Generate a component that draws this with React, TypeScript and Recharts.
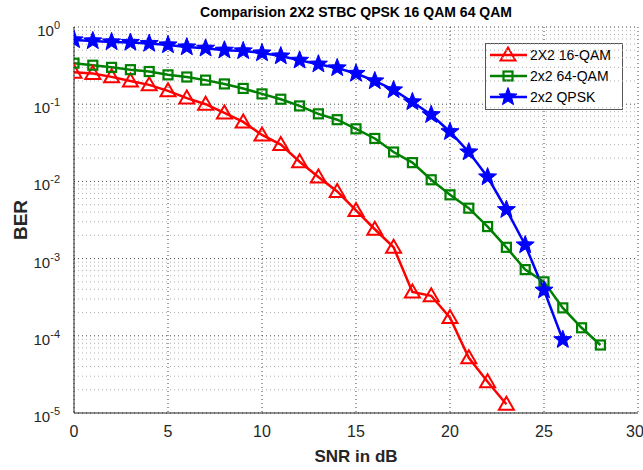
import React from 'react';
import { LineChart, Line, XAxis, YAxis, CartesianGrid, ReferenceLine } from 'recharts';

const snr = [0, 1, 2, 3, 4, 5, 6, 7, 8, 9, 10, 11, 12, 13, 14, 15, 16, 17, 18, 19, 20, 21, 22, 23, 24, 25, 26, 27, 28];

const qam16 = [0.26, 0.25, 0.226, 0.2, 0.178, 0.149, 0.12, 0.1, 0.077, 0.059, 0.04, 0.03, 0.018, 0.0114, 0.0074, 0.0042, 0.0024, 0.0014, 0.00037, 0.00033, 0.000172, 0.000052, 0.0000254, 0.000013];
const qam64 = [0.34, 0.32, 0.3, 0.28, 0.265, 0.24, 0.225, 0.205, 0.183, 0.16, 0.136, 0.116, 0.095, 0.075, 0.063, 0.048, 0.036, 0.024, 0.0175, 0.0105, 0.0067, 0.0045, 0.0026, 0.0014, 0.00072, 0.0005, 0.00023, 0.000127, 0.000076];
const qpsk = [0.68, 0.66, 0.64, 0.63, 0.61, 0.585, 0.55, 0.53, 0.5, 0.49, 0.46, 0.42, 0.37, 0.33, 0.295, 0.25, 0.2, 0.153, 0.107, 0.073, 0.044, 0.024, 0.0114, 0.0043, 0.0015, 0.00039, 0.000089];

const xTicks = [0, 5, 10, 15, 20, 25, 30];
const yTicks = [1e-5, 1e-4, 1e-3, 1e-2, 1e-1, 1];
const yExp = [-5, -4, -3, -2, -1, 0];
const minorSteps = [2, 3, 4, 5, 6, 7, 8, 9];

const data = snr.map((s, i) => ({ snr: s, qam16: qam16[i], qam64: qam64[i], qpsk: qpsk[i] }));
const minorValues = yTicks.slice(0, 5).flatMap((d) => minorSteps.map((m) => d * m));

const FONT = 'Arial, "Liberation Sans", sans-serif';
const RED = '#ff0000';
const GREEN = '#008000';
const BLUE = '#0000ff';

const Triangle = ({ x, y }: { x: number; y: number }) => (
  <polygon points={`${x},${y - 7.5} ${x - 7.5},${y + 5.5} ${x + 7.5},${y + 5.5}`} fill="none" stroke={RED} strokeWidth={2} />
);
const Square = ({ x, y }: { x: number; y: number }) => (
  <rect x={x - 4.5} y={y - 4.5} width={9} height={9} fill="none" stroke={GREEN} strokeWidth={2.2} />
);
const Star = ({ x, y }: { x: number; y: number }) => {
  const pts: string[] = [];
  for (let k = 0; k < 10; k++) {
    const r = k % 2 === 0 ? 9.5 : 4;
    const a = -Math.PI / 2 + (k * Math.PI) / 5;
    pts.push(`${x + r * Math.cos(a)},${y + r * Math.sin(a)}`);
  }
  return <polygon points={pts.join(' ')} fill={BLUE} stroke={BLUE} strokeWidth={1} />;
};

const makeDot = (Shape: React.FC<{ x: number; y: number }>) => (props: any) => {
  const { cx, cy, index } = props;
  if (cx == null || cy == null || props.value == null) return <g key={`d-${index}`} />;
  return (
    <g key={`d-${index}`}>
      <Shape x={cx} y={cy} />
    </g>
  );
};

const YTick = (props: any) => {
  const { x, y, payload } = props;
  const e = yExp[yTicks.indexOf(payload.value)];
  return (
    <text x={x - 6} y={y + 9} textAnchor="end" fontFamily={FONT} fontSize={15} fill="#262626">
      10
      <tspan dy={-7} fontSize={11}>{e}</tspan>
    </text>
  );
};

const legendItems = [
  { label: '2X2 16-QAM', color: RED, Shape: Triangle },
  { label: '2x2 64-QAM', color: GREEN, Shape: Square },
  { label: '2x2 QPSK', color: BLUE, Shape: Star },
];

export default function App() {
  return (
    <div style={{ position: 'fixed', left: 0, top: 0, width: 643, height: 470, background: '#fff' }}>
      <LineChart width={643} height={470} data={data} margin={{ top: 27, right: 5, bottom: 0, left: 0 }}>
        <text x={356} y={17} textAnchor="middle" fontFamily={FONT} fontSize={14} fontWeight="bold" fill="#000">
          Comparision 2X2 STBC QPSK 16 QAM 64 QAM
        </text>
        <text x={0} y={0} transform="translate(27,220) rotate(-90)" textAnchor="middle" fontFamily={FONT} fontSize={19} fontWeight="bold" fill="#262626">
          BER
        </text>
        <text x={356} y={462} textAnchor="middle" fontFamily={FONT} fontSize={17} fontWeight="bold" fill="#262626">
          SNR in dB
        </text>
        {minorValues.map((v) => (
          <ReferenceLine key={`m-${v}`} y={v} stroke="#b0b0b0" strokeWidth={1} strokeDasharray="1 3" />
        ))}
        <CartesianGrid stroke="#444" strokeDasharray="1 3" />
        <XAxis
          dataKey="snr"
          type="number"
          domain={[0, 30]}
          ticks={xTicks}
          allowDataOverflow
          height={57}
          tickLine={false}
          axisLine={{ stroke: '#262626' }}
          tick={{ fontFamily: FONT, fontSize: 16, fill: '#262626' }}
          tickMargin={7}
        />
        <XAxis xAxisId="top" orientation="top" type="number" domain={[0, 30]} ticks={xTicks} height={0} tick={false} tickLine={false} axisLine={{ stroke: '#262626' }} />
        <YAxis
          scale="log"
          domain={[1e-5, 1]}
          ticks={yTicks}
          allowDataOverflow
          width={74}
          tickLine={false}
          axisLine={{ stroke: '#262626' }}
          tick={<YTick />}
        />
        <YAxis yAxisId="right" orientation="right" scale="log" domain={[1e-5, 1]} ticks={yTicks} width={0} tick={false} tickLine={false} axisLine={{ stroke: '#262626' }} />
        <Line dataKey="qam16" stroke={RED} strokeWidth={2.5} dot={makeDot(Triangle)} isAnimationActive={false} />
        <Line dataKey="qam64" stroke={GREEN} strokeWidth={2.5} dot={makeDot(Square)} isAnimationActive={false} />
        <Line dataKey="qpsk" stroke={BLUE} strokeWidth={2.5} dot={makeDot(Star)} isAnimationActive={false} />
        <g transform="translate(485,43)">
          <rect x={0.5} y={0.5} width={137} height={66} fill="#fff" stroke="#555" />
          {legendItems.map((it, i) => {
            const y = 12 + i * 21;
            return (
              <g key={it.label}>
                <line x1={5} x2={42} y1={y} y2={y} stroke={it.color} strokeWidth={2.5} />
                <it.Shape x={23} y={y} />
                <text x={45} y={y + 5} fontFamily={FONT} fontSize={14} fill="#000">{it.label}</text>
              </g>
            );
          })}
        </g>
      </LineChart>
    </div>
  );
}
